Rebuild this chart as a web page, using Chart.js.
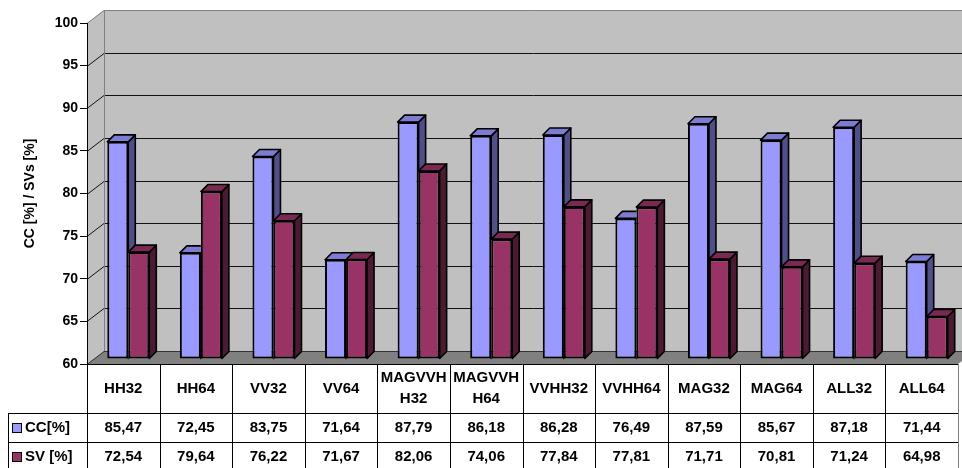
<!DOCTYPE html>
<html>
<head>
<meta charset="utf-8">
<script src="https://cdn.jsdelivr.net/npm/chart.js@4.4.1/dist/chart.umd.min.js"></script>
<style>
  html, body { margin: 0; padding: 0; background: #fff; }
  canvas { display: block; }
</style>
</head>
<body>
<canvas id="chart" width="962" height="468"></canvas>
<script>
// ---- data ----
const categories = ['HH32', 'HH64', 'VV32', 'VV64', 'MAGVVHH32', 'MAGVVHH64',
                    'VVHH32', 'VVHH64', 'MAG32', 'MAG64', 'ALL32', 'ALL64'];
const ccValues = [85.47, 72.45, 83.75, 71.64, 87.79, 86.18, 86.28, 76.49, 87.59, 85.67, 87.18, 71.44];
const svValues = [72.54, 79.64, 76.22, 71.67, 82.06, 74.06, 77.84, 77.81, 71.71, 70.81, 71.24, 64.98];
const seriesNames = ['CC[%]', 'SV [%]'];
const yTitle = 'CC [%] / SVs [%]';
const yMin = 60, yMax = 100, yStep = 5;

// ---- style ----
const FONT = '"Liberation Sans", Arial, sans-serif';
const frontColors = ['#9999FF', '#993366'];
const sideColors  = ['#4F4F8A', '#4C1A33'];
const topColors   = ['#7C7CD2', '#7A2952'];
const WALL = { dx: 17, dy: 13 };     // depth of the back wall
const SHIFT = { dx: 5, dy: 5 };      // bars sit slightly behind the front plane
const BAR_DEPTH = 7;                 // depth of each bar
const HEADER_H = 49, ROW_H = 29, LEGEND_LEFT = 8;

const fmt = v => v.toFixed(2).replace('.', ',');

// grey walls, floor and gridlines of the 3D box
const wallsPlugin = {
  id: 'walls',
  beforeDraw(chart) {
    const { ctx, chartArea: a } = chart;
    const y = chart.scales.y;
    const L = a.left, R = a.right, T = a.top, B = a.bottom;
    const dx = WALL.dx, dy = WALL.dy;
    ctx.save();
    // side wall
    ctx.fillStyle = '#C0C0C0';
    ctx.beginPath();
    ctx.moveTo(L, T); ctx.lineTo(L + dx, T - dy); ctx.lineTo(L + dx, B - dy); ctx.lineTo(L, B);
    ctx.closePath(); ctx.fill();
    // back wall
    ctx.fillRect(L + dx, T - dy, R + dx - (L + dx), B - T);
    // floor
    ctx.fillStyle = '#808080';
    ctx.beginPath();
    ctx.moveTo(L, B); ctx.lineTo(L + dx, B - dy); ctx.lineTo(R + dx, B - dy); ctx.lineTo(R, B);
    ctx.closePath(); ctx.fill();

    // gridlines
    ctx.lineWidth = 1;
    for (let v = yMin + yStep; v < yMax; v += yStep) {
      const py = Math.round(y.getPixelForValue(v)) + 0.5;
      ctx.strokeStyle = '#111';
      ctx.beginPath();
      ctx.moveTo(L, py); ctx.lineTo(L + dx, py - dy);
      ctx.lineTo(R + dx, py - dy);
      ctx.stroke();
    }
    // wall edges
    ctx.strokeStyle = '#808080';
    ctx.beginPath();
    const ty = Math.round(T) + 0.5;
    ctx.moveTo(L, ty); ctx.lineTo(L + dx, ty - dy); ctx.lineTo(R + dx, ty - dy);
    ctx.moveTo(L + dx + 0.5, ty - dy); ctx.lineTo(L + dx + 0.5, B - dy);
    ctx.stroke();
    ctx.strokeStyle = '#333';
    ctx.beginPath();
    const by = Math.round(B) + 0.5;
    ctx.moveTo(L, by); ctx.lineTo(L + dx, by - dy); ctx.lineTo(R + dx, by - dy);
    ctx.stroke();
    ctx.restore();
  }
};

// side and top faces of the bars
const bars3dPlugin = {
  id: 'bars3d',
  beforeDatasetsDraw(chart) {
    chart.ctx.save();
    chart.ctx.translate(SHIFT.dx, -SHIFT.dy);
  },
  afterDatasetsDraw(chart) {
    const ctx = chart.ctx;
    const d = BAR_DEPTH;
    const metas = chart.data.datasets.map((_, i) => chart.getDatasetMeta(i));
    categories.forEach((_, i) => {
      metas.forEach((meta, k) => {
        const p = meta.data[i].getProps(['x', 'y', 'base', 'width'], true);
        const x1 = p.x - p.width / 2, x2 = p.x + p.width / 2;
        ctx.save();
        // fronts of the bars to the right hide this bar's faces
        ctx.beginPath();
        ctx.rect(-50, -50, chart.width + 100, chart.height + 100);
        for (let j = k + 1; j < metas.length; j++) {
          const q = metas[j].data[i].getProps(['x', 'y', 'base', 'width'], true);
          ctx.rect(q.x - q.width / 2, q.y, q.width, q.base - q.y);
        }
        ctx.clip('evenodd');
        ctx.lineWidth = 1.6;
        ctx.lineJoin = 'round';
        ctx.strokeStyle = '#000';
        // side
        ctx.fillStyle = sideColors[k];
        ctx.beginPath();
        ctx.moveTo(x2, p.y); ctx.lineTo(x2 + d, p.y - d); ctx.lineTo(x2 + d, p.base - d); ctx.lineTo(x2, p.base);
        ctx.closePath(); ctx.fill(); ctx.stroke();
        // top
        ctx.fillStyle = topColors[k];
        ctx.beginPath();
        ctx.moveTo(x1, p.y); ctx.lineTo(x1 + d, p.y - d); ctx.lineTo(x2 + d, p.y - d); ctx.lineTo(x2, p.y);
        ctx.closePath(); ctx.fill(); ctx.stroke();
        ctx.restore();
      });
    });
    ctx.restore();
  }
};

// data table under the plot
const tablePlugin = {
  id: 'dataTable',
  afterDraw(chart) {
    const { ctx, chartArea: a } = chart;
    const xs = chart.scales.x;
    const n = categories.length;
    const colW = (a.right - a.left) / n;
    const top = a.bottom;
    const r1 = top + HEADER_H, r2 = r1 + ROW_H, r3 = r2 + ROW_H;
    ctx.save();
    ctx.lineWidth = 1;
    ctx.strokeStyle = '#000';
    ctx.beginPath();
    for (let i = 0; i < n; i++) {
      const xl = Math.round(xs.getPixelForValue(i) - colW / 2) + 0.5;
      ctx.moveTo(xl, top); ctx.lineTo(xl, r3);
    }
    ctx.moveTo(LEGEND_LEFT + 0.5, r1); ctx.lineTo(LEGEND_LEFT + 0.5, r3);
    ctx.moveTo(LEGEND_LEFT, Math.round(r1) + 0.5); ctx.lineTo(a.right, Math.round(r1) + 0.5);
    ctx.moveTo(LEGEND_LEFT, Math.round(r2) + 0.5); ctx.lineTo(a.right, Math.round(r2) + 0.5);
    ctx.moveTo(a.left, Math.round(top) + 0.5); ctx.lineTo(a.right, Math.round(top) + 0.5);
    ctx.stroke();
    ctx.strokeStyle = '#808080';
    ctx.beginPath();
    ctx.moveTo(Math.round(a.right) + 0.5, top); ctx.lineTo(Math.round(a.right) + 0.5, r3);
    ctx.stroke();

    ctx.fillStyle = '#000';
    ctx.font = 'bold 15px ' + FONT;
    ctx.textAlign = 'center';
    ctx.textBaseline = 'middle';
    const maxW = colW - 4;
    categories.forEach((label, i) => {
      const cx = xs.getPixelForValue(i);
      // wrap long labels character by character
      const lines = [];
      let cur = '';
      for (const ch of label) {
        if (ctx.measureText(cur + ch).width > maxW && cur) { lines.push(cur); cur = ch; }
        else cur += ch;
      }
      lines.push(cur);
      const lh = 21;
      const cy = top + HEADER_H / 2 - (lines.length - 1) * lh / 2;
      lines.forEach((ln, j) => ctx.fillText(ln, cx, cy + j * lh));
      ctx.fillText(fmt(ccValues[i]), cx, r1 + ROW_H / 2);
      ctx.fillText(fmt(svValues[i]), cx, r2 + ROW_H / 2);
    });
    // legend keys
    ctx.textAlign = 'left';
    [r1, r2].forEach((ry, k) => {
      const cy = ry + ROW_H / 2;
      ctx.fillStyle = frontColors[k];
      ctx.fillRect(12.5, Math.round(cy - 5) + 0.5, 9, 9);
      ctx.strokeStyle = '#000';
      ctx.lineWidth = 1;
      ctx.strokeRect(12.5, Math.round(cy - 5) + 0.5, 9, 9);
      ctx.fillStyle = '#000';
      ctx.fillText(seriesNames[k], 25, cy);
    });
    ctx.restore();
  }
};

new Chart(document.getElementById('chart'), {
  type: 'bar',
  data: {
    labels: categories,
    datasets: [
      { label: seriesNames[0], data: ccValues, base: yMin, backgroundColor: frontColors[0],
        borderColor: '#000', borderWidth: 2, borderSkipped: false, clip: false },
      { label: seriesNames[1], data: svValues, base: yMin, backgroundColor: frontColors[1],
        borderColor: '#000', borderWidth: 2, borderSkipped: false, clip: false }
    ]
  },
  options: {
    responsive: false,
    devicePixelRatio: 1,
    animation: false,
    layout: { padding: { left: 0, right: 4, top: 23, bottom: 104 } },
    datasets: { bar: { barPercentage: 1, categoryPercentage: 0.579 } },
    plugins: { legend: { display: false }, tooltip: { enabled: false } },
    scales: {
      x: { display: false },
      y: {
        min: yMin, max: yMax,
        ticks: { stepSize: yStep, color: '#000', padding: 2,
                 font: { family: FONT, size: 14, weight: 'bold' } },
        grid: { drawOnChartArea: false, drawTicks: true, tickLength: 7, color: '#000' },
        border: { display: true, color: '#000', width: 1 },
        title: { display: true, text: yTitle, color: '#000',
                 font: { family: FONT, size: 14, weight: 'bold' },
                 padding: { top: 22, bottom: 0 } },
        afterFit(scale) { scale.width = 87; }
      }
    }
  },
  plugins: [wallsPlugin, bars3dPlugin, tablePlugin]
});
</script>
</body>
</html>
